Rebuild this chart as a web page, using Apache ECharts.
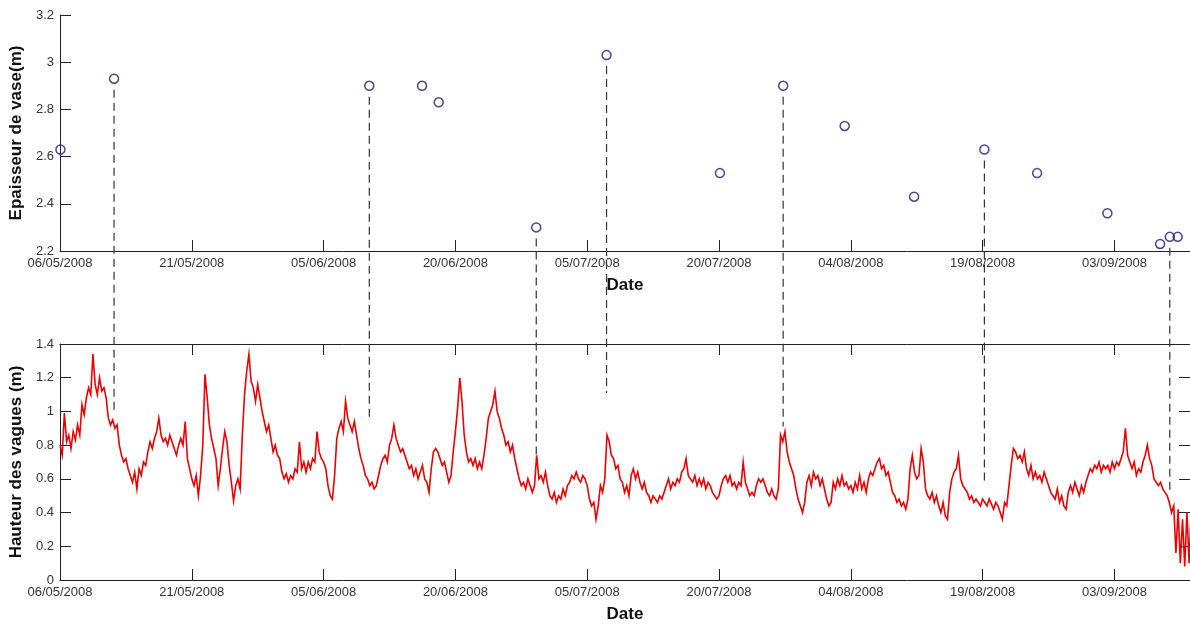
<!DOCTYPE html>
<html><head><meta charset="utf-8">
<script src="https://cdn.jsdelivr.net/npm/echarts@6/dist/echarts.min.js"></script>
<style>html,body{margin:0;padding:0;background:#fff}#c{width:1190px;height:624px}</style>
</head><body><div id="c"></div>
<script>
// x values are days since 06/05/2008
const xTickLabels = ['06/05/2008','21/05/2008','05/06/2008','20/06/2008','05/07/2008','20/07/2008','04/08/2008','19/08/2008','03/09/2008'];
const xTickStepDays = 15;
const xMaxDay = 128.6;

// Top panel: mud thickness survey
const surveyDay = [0.05, 6.15, 35.2, 41.2, 43.1, 54.2, 62.2, 75.1, 82.3, 89.3, 97.2, 105.2, 111.2, 119.2, 125.2, 126.3, 127.2];
const mudThickness = [2.63, 2.93, 2.90, 2.90, 2.83, 2.30, 3.03, 2.53, 2.90, 2.73, 2.43, 2.63, 2.53, 2.36, 2.23, 2.26, 2.26];

// Dashed links: survey index -> wave level reached in the lower panel
const linkSurveyIndex = [1, 2, 5, 6, 8, 11, 15];
const linkWaveLevel = [1.01, 0.95, 0.71, 1.11, 0.91, 0.56, 0.52];

// Bottom panel: wave height, one value every 6 hours from 06/05/2008
const waveStepDays = 0.25;
const waveHeight = [
0.80,0.74,0.99,0.82, 0.86,0.78,0.88,0.83, 0.92,0.86,1.04,0.98, 1.08,1.14,1.10,1.34, 1.16,1.10,1.20,1.12,
1.14,1.08,0.96,0.92, 0.95,0.90,0.92,0.80, 0.74,0.70,0.72,0.66, 0.62,0.58,0.64,0.54, 0.66,0.62,0.70,0.68,
0.76,0.82,0.78,0.84, 0.88,0.96,0.86,0.82, 0.84,0.80,0.86,0.82, 0.78,0.74,0.80,0.84, 0.80,0.94,0.72,0.66,
0.60,0.56,0.62,0.50, 0.62,0.80,1.22,1.08, 0.92,0.84,0.78,0.72, 0.56,0.66,0.78,0.88, 0.82,0.68,0.58,0.47,
0.56,0.60,0.54,0.86, 1.10,1.24,1.34,1.18, 1.14,1.06,1.16,1.08, 1.00,0.94,0.88,0.92, 0.84,0.76,0.80,0.74,
0.72,0.64,0.60,0.63, 0.58,0.62,0.60,0.66, 0.64,0.82,0.66,0.70, 0.64,0.70,0.66,0.72, 0.70,0.88,0.76,0.72,
0.70,0.66,0.56,0.50, 0.48,0.62,0.84,0.90, 0.94,0.88,1.06,0.96, 0.92,0.88,0.94,0.86, 0.78,0.72,0.68,0.62,
0.60,0.56,0.58,0.54, 0.56,0.62,0.68,0.72, 0.74,0.70,0.80,0.84, 0.92,0.84,0.80,0.76, 0.78,0.74,0.70,0.66,
0.68,0.62,0.66,0.60, 0.64,0.68,0.60,0.58, 0.52,0.66,0.76,0.78, 0.76,0.72,0.68,0.70, 0.64,0.58,0.62,0.76,
0.88,1.02,1.20,1.06, 0.86,0.76,0.70,0.72, 0.68,0.72,0.66,0.70, 0.66,0.74,0.84,0.96, 1.00,1.04,1.12,1.00,
0.96,0.90,0.86,0.80, 0.82,0.76,0.80,0.72, 0.66,0.60,0.56,0.58, 0.54,0.60,0.56,0.52, 0.56,0.74,0.60,0.62,
0.58,0.64,0.56,0.50, 0.48,0.52,0.46,0.50, 0.48,0.54,0.50,0.56, 0.58,0.62,0.60,0.64, 0.60,0.58,0.62,0.60,
0.56,0.48,0.44,0.46, 0.36,0.44,0.56,0.52, 0.60,0.86,0.82,0.74, 0.72,0.66,0.68,0.60, 0.58,0.52,0.56,0.50,
0.62,0.66,0.60,0.64, 0.58,0.54,0.58,0.52, 0.50,0.46,0.50,0.48, 0.46,0.50,0.48,0.52, 0.56,0.60,0.54,0.58,
0.56,0.60,0.58,0.64, 0.66,0.72,0.62,0.60, 0.58,0.62,0.56,0.60, 0.56,0.60,0.54,0.58, 0.56,0.52,0.50,0.48,
0.50,0.56,0.60,0.62, 0.58,0.62,0.56,0.58, 0.54,0.58,0.56,0.70, 0.58,0.54,0.50,0.52, 0.50,0.56,0.60,0.58,
0.60,0.56,0.52,0.50, 0.54,0.50,0.48,0.54, 0.86,0.82,0.88,0.76, 0.70,0.66,0.62,0.54, 0.48,0.44,0.40,0.46,
0.58,0.62,0.56,0.64, 0.60,0.62,0.56,0.60, 0.54,0.48,0.44,0.46, 0.58,0.54,0.60,0.56, 0.62,0.56,0.58,0.54,
0.56,0.52,0.58,0.54, 0.62,0.54,0.58,0.52, 0.60,0.64,0.62,0.66, 0.70,0.72,0.66,0.68, 0.62,0.64,0.58,0.52,
0.50,0.46,0.48,0.44, 0.46,0.42,0.48,0.66, 0.74,0.64,0.60,0.62, 0.78,0.70,0.54,0.50, 0.48,0.52,0.46,0.50,
0.44,0.40,0.46,0.38, 0.36,0.52,0.60,0.64, 0.66,0.74,0.60,0.56, 0.54,0.52,0.48,0.50, 0.46,0.48,0.46,0.44,
0.48,0.46,0.44,0.48, 0.45,0.42,0.46,0.44, 0.40,0.36,0.46,0.44, 0.56,0.68,0.78,0.76, 0.72,0.74,0.70,0.76,
0.66,0.62,0.68,0.60, 0.64,0.60,0.62,0.58, 0.64,0.60,0.56,0.52, 0.50,0.48,0.54,0.46, 0.50,0.44,0.42,0.52,
0.56,0.52,0.58,0.54, 0.50,0.56,0.52,0.58, 0.62,0.66,0.64,0.68, 0.66,0.70,0.64,0.68, 0.66,0.68,0.64,0.70,
0.66,0.70,0.68,0.72, 0.76,0.90,0.74,0.70, 0.66,0.70,0.62,0.66, 0.64,0.70,0.74,0.80, 0.72,0.68,0.60,0.58,
0.56,0.58,0.54,0.52, 0.50,0.46,0.40,0.44, 0.16,0.42,0.10,0.36, 0.08,0.40,0.10,0.44
];

const topYAxis = {min: 2.2, max: 3.2, interval: 0.2, name: 'Epaisseur de vase(m)'};
const botYAxis = {min: 0, max: 1.4, interval: 0.2, name: 'Hauteur des vagues (m)'};

const FONT = 'Liberation Sans, Arial, sans-serif';
const AX = '#222';
const LBL = '#333';

function xFmt(v) {
  const k = Math.round(v / xTickStepDays);
  if (Math.abs(v - k * xTickStepDays) < 1e-6 && k >= 0 && k < xTickLabels.length) return xTickLabels[k];
  return '';
}

function xAxisCfg(gridIndex, position, withLabels) {
  return {
    type: 'value', gridIndex, position, min: 0, max: xMaxDay, interval: xTickStepDays,
    axisLine: {show: true, onZero: false, lineStyle: {color: AX, width: 1}},
    axisTick: {show: true, inside: true, length: 11, lineStyle: {color: AX}},
    axisLabel: {show: withLabels, formatter: xFmt, color: LBL, fontSize: 13, fontFamily: FONT, margin: 6, showMaxLabel: false},
    splitLine: {show: false},
    name: withLabels ? 'Date' : '', nameLocation: 'middle', nameGap: 26,
    nameTextStyle: {color: '#111', fontSize: 17, fontWeight: 'bold', fontFamily: FONT}
  };
}
function yAxisCfg(gridIndex, cfg, position, withLabels) {
  return {
    type: 'value', gridIndex, position, min: cfg.min, max: cfg.max, interval: cfg.interval,
    axisLine: {show: true, onZero: false, lineStyle: {color: AX, width: 1}},
    axisTick: {show: true, inside: true, length: 11, lineStyle: {color: AX}},
    axisLabel: {show: withLabels, color: LBL, fontSize: 13, fontFamily: FONT, margin: 6},
    splitLine: {show: false},
    name: withLabels ? cfg.name : '', nameLocation: 'middle', nameGap: 31,
    nameTextStyle: {color: '#111', fontSize: 17, fontWeight: 'bold', fontFamily: FONT}
  };
}

const chart = echarts.init(document.getElementById('c'), null, {renderer: 'canvas'});
chart.setOption({
  animation: false,
  backgroundColor: '#fff',
  grid: [
    {left: 60, top: 15, width: 1131, height: 236},
    {left: 60, top: 344, width: 1131, height: 237}
  ],
  xAxis: [
    xAxisCfg(0, 'bottom', true),
    xAxisCfg(1, 'bottom', true),
    xAxisCfg(1, 'top', false)
  ],
  yAxis: [
    yAxisCfg(0, topYAxis, 'left', true),
    yAxisCfg(1, botYAxis, 'left', true),
    yAxisCfg(1, botYAxis, 'right', false)
  ],
  series: [
    {
      type: 'line', xAxisIndex: 1, yAxisIndex: 1,
      data: waveHeight.map((v, i) => [i * waveStepDays, v]),
      showSymbol: false, symbol: 'none',
      lineStyle: {color: '#f00000', width: 1.6, join: 'miter'},
      clip: true, z: 3
    },
    {
      type: 'scatter', xAxisIndex: 0, yAxisIndex: 0,
      data: surveyDay.map((d, i) => [d, mudThickness[i]]),
      symbol: 'circle', symbolSize: 9,
      itemStyle: {color: 'rgba(255,255,255,0)', borderColor: '#1a1a7a', borderWidth: 1.5},
      clip: false, z: 5
    }
  ]
});

// dashed connectors drawn through the library's own scales
const graphics = linkSurveyIndex.map((si, k) => {
  const p1 = chart.convertToPixel({gridIndex: 0}, [surveyDay[si], mudThickness[si]]);
  const p2 = chart.convertToPixel({gridIndex: 1}, [surveyDay[si], linkWaveLevel[k]]);
  return {
    type: 'line', z: 10,
    shape: {x1: p1[0], y1: p1[1] + 11, x2: p2[0], y2: p2[1]},
    style: {stroke: '#333', lineWidth: 1.2, lineDash: [8, 5]}
  };
});
chart.setOption({graphic: graphics});
</script>
</body></html>
